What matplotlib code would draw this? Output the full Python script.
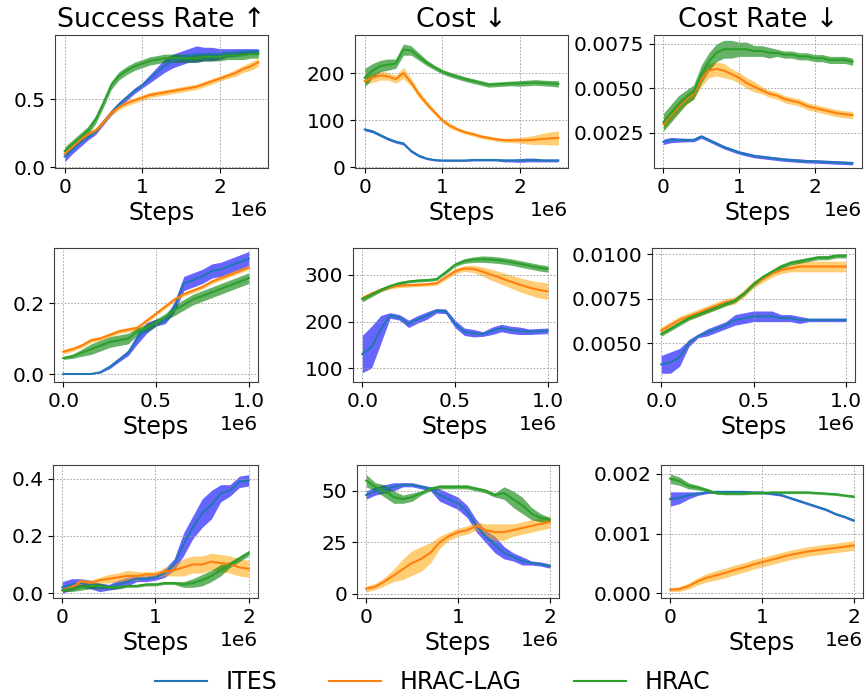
import numpy as np
import matplotlib
matplotlib.use('Agg')
import matplotlib.pyplot as plt

# Pasos de entrenamiento (en millones) para cada fila de entornos
steps_r1 = np.arange(0, 2.51, 0.1) * 1e6
steps_r2 = np.arange(0, 1.001, 0.05) * 1e6
steps_r3 = np.arange(0, 2.01, 0.1) * 1e6

# Fila 1
sr1_ites = [0.08, 0.13, 0.18, 0.22, 0.26, 0.33, 0.40, 0.46, 0.51, 0.56, 0.60, 0.65, 0.70,
            0.75, 0.78, 0.80, 0.82, 0.83, 0.83, 0.83, 0.83, 0.84, 0.84, 0.85, 0.85, 0.85]
sr1_ites_err = [0.04, 0.03, 0.03, 0.02, 0.02, 0.02, 0.02, 0.02, 0.02, 0.02, 0.02, 0.03, 0.04,
                0.05, 0.05, 0.05, 0.05, 0.06, 0.05, 0.05, 0.04, 0.03, 0.03, 0.02, 0.02, 0.02]
sr1_lag = [0.10, 0.15, 0.20, 0.24, 0.27, 0.33, 0.40, 0.44, 0.47, 0.49, 0.51, 0.53, 0.54,
           0.55, 0.56, 0.57, 0.58, 0.59, 0.61, 0.63, 0.65, 0.67, 0.69, 0.72, 0.74, 0.77]
sr1_lag_err = [0.02] * 22 + [0.025, 0.025, 0.03, 0.03]
sr1_hrac = [0.12, 0.17, 0.22, 0.27, 0.35, 0.47, 0.60, 0.67, 0.71, 0.74, 0.76, 0.78, 0.79,
            0.80, 0.80, 0.80, 0.80, 0.80, 0.81, 0.81, 0.81, 0.82, 0.82, 0.82, 0.83, 0.83]
sr1_hrac_err = [0.03] * 26

cost1_ites = [80, 76, 68, 60, 54, 50, 34, 24, 18, 15, 14, 14, 14, 14, 15, 15, 15, 15, 14,
              14, 14, 15, 15, 14, 14, 14]
cost1_ites_err = [3, 3, 3, 3, 3, 3, 3, 3, 2, 2, 2, 2, 2, 2, 2, 2, 2, 2, 3, 3, 4, 4, 4, 3, 3, 3]
cost1_lag = [183, 190, 195, 193, 187, 200, 180, 155, 135, 117, 100, 88, 80, 74, 70, 65, 62,
             59, 57, 57, 57, 57, 58, 60, 61, 62]
cost1_lag_err = [8, 10, 10, 8, 8, 12, 8, 7, 6, 5, 5, 5, 4, 4, 4, 4, 4, 4, 4, 5, 6, 8, 10,
                 12, 14, 15]
cost1_hrac = [190, 205, 215, 218, 220, 250, 248, 235, 222, 212, 203, 197, 192, 187, 183,
              179, 175, 176, 177, 178, 178, 179, 180, 179, 178, 177]
cost1_hrac_err = [20, 15, 12, 12, 10, 12, 10, 8, 6, 5, 5, 5, 5, 5, 5, 5, 5, 5, 5, 5, 6, 6,
                  6, 6, 6, 7]

cr1_ites = [0.0020, 0.0021, 0.0021, 0.0021, 0.0021, 0.0023, 0.0021, 0.0019, 0.0017, 0.00155,
            0.0014, 0.0013, 0.0012, 0.00115, 0.0011, 0.00105, 0.0010, 0.00097, 0.00094,
            0.00091, 0.0009, 0.00088, 0.00086, 0.00084, 0.00082, 0.0008]
cr1_ites_err = [0.00015, 0.00015, 0.00012] + [0.0001] * 23
cr1_lag = [0.0030, 0.0035, 0.0040, 0.0044, 0.0047, 0.0055, 0.0060, 0.0061, 0.0060, 0.0058,
           0.0056, 0.0053, 0.0051, 0.0049, 0.0047, 0.0046, 0.0044, 0.0043, 0.0042, 0.0040,
           0.0039, 0.0038, 0.0037, 0.0036, 0.00355, 0.0035]
cr1_lag_err = [0.0003, 0.0003, 0.0003, 0.0003, 0.0003, 0.0004, 0.0004, 0.0004, 0.0004,
               0.0003, 0.0003, 0.0003, 0.0003, 0.0002, 0.0002, 0.0002, 0.0002, 0.0002,
               0.0002, 0.0002, 0.0002, 0.0002, 0.0002, 0.0002, 0.0002, 0.0002]
cr1_hrac = [0.0031, 0.0036, 0.0041, 0.0045, 0.0048, 0.0058, 0.0065, 0.0070, 0.0072, 0.0072,
            0.0072, 0.0072, 0.0071, 0.0071, 0.0070, 0.0070, 0.0069, 0.0069, 0.0068, 0.0068,
            0.0067, 0.0067, 0.0066, 0.0066, 0.0066, 0.0065]
cr1_hrac_err = [0.0005, 0.0005, 0.0005, 0.0004, 0.0004, 0.0005, 0.0005, 0.0005, 0.0005,
                0.0005, 0.0004, 0.0004, 0.0003, 0.0003, 0.0003, 0.0002, 0.0002, 0.0002,
                0.0002, 0.0002, 0.0002, 0.0002, 0.0002, 0.0002, 0.0002, 0.0002]

# Fila 2
sr2_ites = [0.0, 0.0, 0.0, 0.0, 0.005, 0.02, 0.04, 0.06, 0.10, 0.13, 0.145, 0.15, 0.19,
            0.255, 0.265, 0.275, 0.29, 0.295, 0.305, 0.315, 0.325]
sr2_ites_err = [0, 0, 0, 0, 0.002, 0.005, 0.006, 0.008, 0.015, 0.015, 0.01, 0.008, 0.015,
                0.02, 0.02, 0.02, 0.02, 0.02, 0.02, 0.02, 0.02]
sr2_lag = [0.063, 0.07, 0.08, 0.095, 0.10, 0.11, 0.12, 0.125, 0.13, 0.15, 0.17, 0.19, 0.21,
           0.225, 0.235, 0.245, 0.26, 0.27, 0.28, 0.29, 0.30]
sr2_lag_err = [0.006] * 21
sr2_hrac = [0.045, 0.05, 0.06, 0.07, 0.08, 0.09, 0.095, 0.10, 0.12, 0.13, 0.145, 0.16, 0.18,
            0.195, 0.21, 0.22, 0.23, 0.24, 0.25, 0.26, 0.27]
sr2_hrac_err = [0.004, 0.006, 0.01, 0.015, 0.015, 0.015, 0.015, 0.015, 0.01, 0.01, 0.01,
                0.01, 0.015, 0.015, 0.015, 0.015, 0.015, 0.015, 0.015, 0.015, 0.015]

cost2_ites = [130, 145, 183, 213, 209, 195, 205, 213, 223, 222, 195, 178, 175, 173, 180,
              186, 182, 180, 178, 179, 180]
cost2_ites_err = [40, 45, 30, 6, 6, 8, 8, 8, 5, 5, 8, 8, 8, 5, 8, 8, 8, 8, 6, 6, 6]
cost2_lag = [250, 260, 268, 274, 277, 278, 279, 280, 282, 295, 308, 314, 313, 307, 300, 293,
             286, 279, 273, 268, 265]
cost2_lag_err = [4, 4, 4, 4, 4, 4, 4, 4, 4, 5, 6, 6, 8, 10, 12, 13, 14, 15, 16, 17, 18]
cost2_hrac = [248, 258, 268, 276, 282, 286, 288, 289, 291, 306, 322, 330, 333, 334, 333, 331,
              328, 324, 320, 316, 313]
cost2_hrac_err = [6, 5, 4, 4, 4, 3, 3, 3, 3, 4, 4, 5, 6, 7, 7, 7, 7, 7, 7, 7, 7]

cr2_ites = [0.0038, 0.0039, 0.0042, 0.0050, 0.0054, 0.0056, 0.0058, 0.0060, 0.0063, 0.0064,
            0.0065, 0.0065, 0.0065, 0.0064, 0.0064, 0.0063, 0.0063, 0.0063, 0.0063, 0.0063,
            0.0063]
cr2_ites_err = [0.0005, 0.0006, 0.0005, 0.0002, 0.0001, 0.0002, 0.0002, 0.0002, 0.0003,
                0.0003, 0.0003, 0.0003, 0.0003, 0.0002, 0.0002, 0.0002, 0.0001, 0.0001,
                0.0001, 0.0001, 0.0001]
cr2_lag = [0.0057, 0.0060, 0.0063, 0.0065, 0.0067, 0.0069, 0.0071, 0.0073, 0.0074, 0.0078,
           0.0083, 0.0086, 0.0089, 0.0091, 0.0092, 0.0093, 0.0093, 0.0093, 0.0093, 0.0093,
           0.0093]
cr2_lag_err = [0.0002] * 15 + [0.0003] * 6
cr2_hrac = [0.0055, 0.0058, 0.0061, 0.0064, 0.0066, 0.0068, 0.0070, 0.0072, 0.0074, 0.0078,
            0.0083, 0.0087, 0.0090, 0.0093, 0.0095, 0.0096, 0.0097, 0.0098, 0.0098, 0.0099,
            0.0099]
cr2_hrac_err = [0.00012] * 21

# Fila 3
sr3_ites = [0.02, 0.03, 0.035, 0.03, 0.02, 0.02, 0.03, 0.04, 0.05, 0.05, 0.055, 0.07, 0.10,
            0.17, 0.23, 0.28, 0.31, 0.35, 0.36, 0.39, 0.395]
sr3_ites_err = [0.02, 0.02, 0.015, 0.015, 0.015, 0.01, 0.015, 0.015, 0.01, 0.01, 0.01, 0.015,
                0.02, 0.04, 0.04, 0.05, 0.05, 0.03, 0.02, 0.02, 0.02]
sr3_lag = [0.01, 0.02, 0.04, 0.035, 0.045, 0.05, 0.055, 0.06, 0.06, 0.065, 0.065, 0.075,
           0.08, 0.09, 0.10, 0.10, 0.11, 0.105, 0.10, 0.09, 0.085]
sr3_lag_err = [0.005, 0.01, 0.01, 0.01, 0.01, 0.015, 0.015, 0.02, 0.015, 0.01, 0.01, 0.015,
               0.02, 0.03, 0.03, 0.03, 0.03, 0.03, 0.03, 0.03, 0.03]
sr3_hrac = [0.01, 0.015, 0.02, 0.025, 0.025, 0.02, 0.02, 0.025, 0.025, 0.03, 0.03, 0.035,
            0.035, 0.03, 0.035, 0.045, 0.06, 0.08, 0.10, 0.12, 0.14]
sr3_hrac_err = [0.005, 0.01, 0.01, 0.01, 0.01, 0.005, 0.005, 0.005, 0.005, 0.005, 0.005,
                0.005, 0.005, 0.01, 0.015, 0.02, 0.02, 0.02, 0.01, 0.01, 0.01]

cost3_ites = [48, 50, 51, 52, 53, 53, 52, 51, 48, 46, 44, 40, 33, 28, 24, 20, 18, 16, 15,
              14.5, 13.5]
cost3_ites_err = [2, 2, 2, 2, 1, 1, 1, 1, 3, 3, 3, 3, 3, 3, 4, 3, 2, 2, 1, 1, 1]
cost3_lag = [2.5, 3.5, 6, 9, 12, 15, 17, 20, 25, 28, 30, 31, 33, 31, 30, 30, 31, 32, 33, 34, 35]
cost3_lag_err = [1.5, 1.5, 2, 3, 5, 6, 6, 5, 3, 2, 2, 2, 2, 3, 4, 4, 3, 3, 3, 3, 3]
cost3_hrac = [55, 52, 50, 47, 46, 47, 49, 51, 52, 52, 52, 52, 51, 50, 48, 49, 46, 43, 39, 37, 36]
cost3_hrac_err = [3, 2, 3, 3, 2, 2, 1, 1, 1, 1, 1, 1, 1, 1, 1, 3, 4, 4, 3, 2, 1]

cr3_ites = [0.00158, 0.0016, 0.00164, 0.00167, 0.00169, 0.0017, 0.0017, 0.0017, 0.0017,
            0.00169, 0.00169, 0.00167, 0.00165, 0.0016, 0.00155, 0.0015, 0.00145, 0.0014,
            0.00133, 0.00128, 0.00122]
cr3_ites_err = [0.00012, 0.0001, 0.00006, 0.00003] + [0.00002] * 17
cr3_lag = [0.00006, 0.00007, 0.00012, 0.0002, 0.00026, 0.0003, 0.00034, 0.00039, 0.00043,
           0.00048, 0.00052, 0.00056, 0.0006, 0.00064, 0.00067, 0.0007, 0.00072, 0.00074,
           0.00076, 0.00078, 0.0008]
cr3_lag_err = [0.00003, 0.00004, 0.00005, 0.00006, 0.00007] + [0.00008] * 16
cr3_hrac = [0.00192, 0.00188, 0.0018, 0.00177, 0.00173, 0.00168, 0.00167, 0.00167, 0.00167,
            0.00168, 0.00168, 0.00169, 0.00169, 0.00169, 0.00169, 0.00169, 0.00168, 0.00167,
            0.00166, 0.00164, 0.00162]
cr3_hrac_err = [0.00008, 0.00007, 0.00005, 0.00004, 0.00003] + [0.00002] * 16

methods = ['ITES', 'HRAC-LAG', 'HRAC']
line_colors = ['tab:blue', 'tab:orange', 'tab:green']
band_colors = ['blue', 'orange', 'green']
band_alpha = [0.6, 0.55, 0.6]
col_titles = ['Success Rate \u2191', 'Cost \u2193', 'Cost Rate \u2193']

panels = [
    [(steps_r1, [sr1_ites, sr1_lag, sr1_hrac], [sr1_ites_err, sr1_lag_err, sr1_hrac_err]),
     (steps_r1, [cost1_ites, cost1_lag, cost1_hrac], [cost1_ites_err, cost1_lag_err, cost1_hrac_err]),
     (steps_r1, [cr1_ites, cr1_lag, cr1_hrac], [cr1_ites_err, cr1_lag_err, cr1_hrac_err])],
    [(steps_r2, [sr2_ites, sr2_lag, sr2_hrac], [sr2_ites_err, sr2_lag_err, sr2_hrac_err]),
     (steps_r2, [cost2_ites, cost2_lag, cost2_hrac], [cost2_ites_err, cost2_lag_err, cost2_hrac_err]),
     (steps_r2, [cr2_ites, cr2_lag, cr2_hrac], [cr2_ites_err, cr2_lag_err, cr2_hrac_err])],
    [(steps_r3, [sr3_ites, sr3_lag, sr3_hrac], [sr3_ites_err, sr3_lag_err, sr3_hrac_err]),
     (steps_r3, [cost3_ites, cost3_lag, cost3_hrac], [cost3_ites_err, cost3_lag_err, cost3_hrac_err]),
     (steps_r3, [cr3_ites, cr3_lag, cr3_hrac], [cr3_ites_err, cr3_lag_err, cr3_hrac_err])],
]

# Limites del eje y y marcas por panel
ylims = [[(-0.005, 0.97), (-2, 281), (0.00053, 0.0080)],
         [(-0.0225, 0.355), (70, 358), (0.00281, 0.01034)],
         [(-0.0175, 0.449), (-2, 62.6), (-0.00008, 0.00215)]]
yticks = [[[0.0, 0.5], [0, 100, 200], [0.0025, 0.0050, 0.0075]],
          [[0.0, 0.2], [100, 200, 300], [0.0050, 0.0075, 0.0100]],
          [[0.0, 0.2, 0.4], [0, 25, 50], [0.000, 0.001, 0.002]]]
ytick_fmt = [['{:.1f}', '{:.0f}', '{:.4f}'],
             ['{:.1f}', '{:.0f}', '{:.4f}'],
             ['{:.1f}', '{:.0f}', '{:.3f}']]

# Cajas de los ejes en pixeles: (izq, der) por columna y (arriba, abajo) por fila
W, H = 865, 700
col_px = [[(55, 268), (355, 568), (654, 862)],
          [(54, 258), (353, 557), (652, 855)],
          [(53, 258), (357, 559), (661, 863)]]
row_px = [(35, 168), (248, 382), (465, 598)]

plt.rcParams['xtick.labelsize'] = 14.5
plt.rcParams['ytick.labelsize'] = 14.5
plt.rcParams['axes.titlesize'] = 19.3
plt.rcParams['axes.labelsize'] = 17
plt.rcParams['legend.fontsize'] = 17

fig = plt.figure(figsize=(W / 100, H / 100), dpi=100)

handles = []
for r in range(3):
    for c in range(3):
        x0, x1 = col_px[r][c]
        top, bot = row_px[r]
        ax = fig.add_axes([x0 / W, 1 - bot / H, (x1 - x0) / W, (bot - top) / H])
        steps, means, errs = panels[r][c]
        for k in range(3):
            m = np.array(means[k])
            e = np.array(errs[k])
            ax.fill_between(steps, m - e, m + e, color=band_colors[k],
                            alpha=band_alpha[k], linewidth=0)
            h, = ax.plot(steps, m, color=line_colors[k], linewidth=1.5, label=methods[k])
            if r == 0 and c == 0:
                handles.append(h)
        ax.set_ylim(*ylims[r][c])
        ax.set_yticks(yticks[r][c])
        ax.set_yticklabels([ytick_fmt[r][c].format(v) for v in yticks[r][c]])
        ax.grid(True, linestyle=(0, (2, 2)), linewidth=0.6, color='0.6')
        ax.set_xlabel('Steps', labelpad=3)
        for sp in ax.spines.values():
            sp.set_color('0.25')
        if r == 0:
            ax.set_title(col_titles[c])

fig.legend(handles=handles, labels=methods, loc='lower center', ncol=3, frameon=False,
           bbox_to_anchor=(0.5, -0.022), columnspacing=2.2, handlelength=2.2)

plt.savefig('out.png', dpi=100)
plt.close()
